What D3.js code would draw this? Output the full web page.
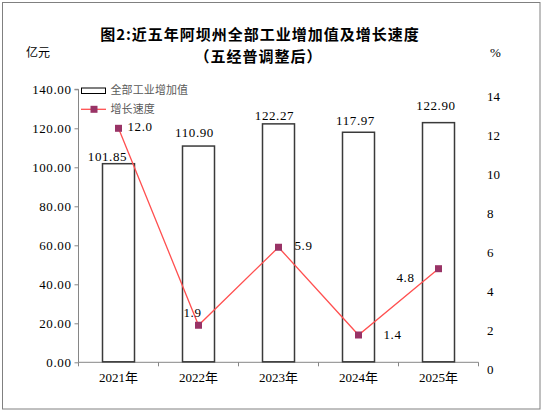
<!DOCTYPE html>
<html><head><meta charset="utf-8">
<script src="https://cdn.jsdelivr.net/npm/d3@7/dist/d3.min.js"></script>
<style>
html,body{margin:0;padding:0;background:#fff;}
svg{display:block;}
</style></head>
<body>
<svg id="c" width="542" height="412"></svg>
<script>
const years = ["2021年","2022年","2023年","2024年","2025年"];
const values = [101.85,110.90,122.27,117.97,122.90];
const growth = [12.0,1.9,5.9,1.4,4.8];
const leftTicks = [0,20,40,60,80,100,120,140];
const rightTicks = [0,2,4,6,8,10,12,14];
const titleLines = ["图2:近五年阿坝州全部工业增加值及增长速度","（五经普调整后）"];
const legendNames = ["全部工业增加值","增长速度"];

// layout-only label nudges (manual placement as in the reference)
const barLabelShift = [[-11,-7],[-4,-14],[-4,-9],[-3,-11.5],[-2.5,-17.5]];
const lineLabelShift = [[9,-2,"start"],[-15,-13,"start"],[16,-1.5,"start"],[25,-1,"start"],[-42,9,"start"]];

const svg = d3.select("#c");
const numFont = "'Liberation Serif','Noto Sans CJK SC',serif";
const cjkFont = "'Noto Sans CJK SC',sans-serif";

svg.append("rect").attr("x",2.5).attr("y",2.5).attr("width",537.5).attr("height",406.5)
  .attr("fill","#fff").attr("stroke","#808080").attr("stroke-width",1);

const x0 = 78.5, x1 = 478.5, yTop = 89.3, yBot = 362.3;
const x = d3.scaleBand().domain(years).range([x0,x1]).paddingInner(0.6).paddingOuter(0.3);
const y = d3.scaleLinear().domain([0,140]).range([yBot,yTop]);
const y2 = d3.scaleLinear().domain([0,14]).range([yBot,yTop]);

// title
svg.append("g").selectAll("text").data(titleLines).join("text")
  .attr("x",(d,i)=> i===0 ? 260 : 258.5)
  .attr("y",(d,i)=> 34.6 + i*21.8).attr("dy","0.36em")
  .attr("text-anchor","middle").attr("font-family",cjkFont).attr("font-weight","bold")
  .attr("font-size",15).attr("letter-spacing",1).attr("fill","#000").text(d=>d);

// unit labels
svg.append("text").attr("x",26).attr("y",53).attr("dy","0.36em").attr("font-family",cjkFont)
  .attr("font-size",12).text("亿元");
svg.append("text").attr("x",490).attr("y",52).attr("dy","0.36em").attr("font-family",numFont)
  .attr("font-size",13).text("%");

// left axis
const yAxis = d3.axisLeft(y).tickValues(leftTicks).tickFormat(d3.format(".2f")).tickSize(4).tickPadding(3);
const gy = svg.append("g").attr("transform",`translate(${x0},0)`).call(yAxis);
gy.select(".domain").attr("stroke","#868686").attr("d",`M-4,${yTop}H0V${yBot}`);
gy.selectAll(".tick line").attr("stroke","#868686");
gy.selectAll(".tick text").attr("font-family",numFont).attr("font-size",13)
  .attr("letter-spacing",0.6).attr("fill","#000").attr("dy","0.36em");

// right axis labels (no line), drawn slightly low like the reference
svg.append("g").selectAll("text").data(rightTicks).join("text")
  .attr("x",487).attr("y",d=>y2(d)+6.7).attr("dy","0.36em")
  .attr("font-family",numFont).attr("font-size",13).attr("fill","#000").text(d=>d);

// x axis
const boundaries = d3.range(years.length+1).map(i=> x0 + i*x.step());
const gx = svg.append("g");
gx.append("line").attr("x1",x0).attr("x2",x1).attr("y1",yBot).attr("y2",yBot).attr("stroke","#868686");
gx.selectAll("line.t").data(boundaries).join("line").attr("class","t")
  .attr("x1",d=>d).attr("x2",d=>d).attr("y1",yBot).attr("y2",yBot+4).attr("stroke","#868686");
gx.selectAll("text").data(years).join("text")
  .attr("x",d=>x(d)+x.bandwidth()/2).attr("y",377).attr("dy","0.36em")
  .attr("text-anchor","middle").attr("font-family",numFont).attr("font-size",13).text(d=>d);

// bars
svg.append("g").selectAll("rect").data(values).join("rect")
  .attr("x",(d,i)=>x(years[i])).attr("y",d=>y(d))
  .attr("width",x.bandwidth()).attr("height",d=>yBot-y(d)-0.5)
  .attr("fill","#fff").attr("stroke","#3a3a3a").attr("stroke-width",1.5);

svg.append("g").selectAll("text").data(values).join("text")
  .attr("x",(d,i)=>x(years[i])+x.bandwidth()/2+barLabelShift[i][0])
  .attr("y",(d,i)=>y(d)+barLabelShift[i][1]).attr("dy","0.36em")
  .attr("text-anchor","middle").attr("font-family",numFont).attr("font-size",13)
  .attr("letter-spacing",0.6).text(d=>d.toFixed(2));

// line
const cx = i => x(years[i])+x.bandwidth()/2;
const line = d3.line().x((d,i)=>cx(i)).y(d=>y2(d));
svg.append("path").datum(growth).attr("d",line).attr("fill","none")
  .attr("stroke","#ff5050").attr("stroke-width",1.3);
svg.append("g").selectAll("rect").data(growth).join("rect")
  .attr("x",(d,i)=>cx(i)-3.5).attr("y",d=>y2(d)-3.5).attr("width",7).attr("height",7)
  .attr("fill","#993366");
svg.append("g").selectAll("text").data(growth).join("text")
  .attr("x",(d,i)=>cx(i)+lineLabelShift[i][0]).attr("y",(d,i)=>y2(d)+lineLabelShift[i][1])
  .attr("dy","0.36em").attr("text-anchor",(d,i)=>lineLabelShift[i][2])
  .attr("font-family",numFont).attr("font-size",13).attr("letter-spacing",0.6)
  .text(d=>d.toFixed(1));

// legend
const lg = svg.append("g");
lg.append("rect").attr("x",81.5).attr("y",88).attr("width",24).attr("height",5.5)
  .attr("fill","#fff").attr("stroke","#000").attr("stroke-width",1);
lg.append("line").attr("x1",81).attr("x2",106).attr("y1",109.3).attr("y2",109.3)
  .attr("stroke","#ff5050").attr("stroke-width",1.3);
lg.append("rect").attr("x",90.5).attr("y",105.8).attr("width",7).attr("height",7).attr("fill","#993366");
lg.selectAll("text").data(legendNames).join("text")
  .attr("x",110.5).attr("y",(d,i)=>90.5+i*19).attr("dy","0.36em")
  .attr("font-family",cjkFont).attr("font-size",11).attr("letter-spacing",0.1)
  .attr("fill","#595959").text(d=>d);
</script>
</body></html>
